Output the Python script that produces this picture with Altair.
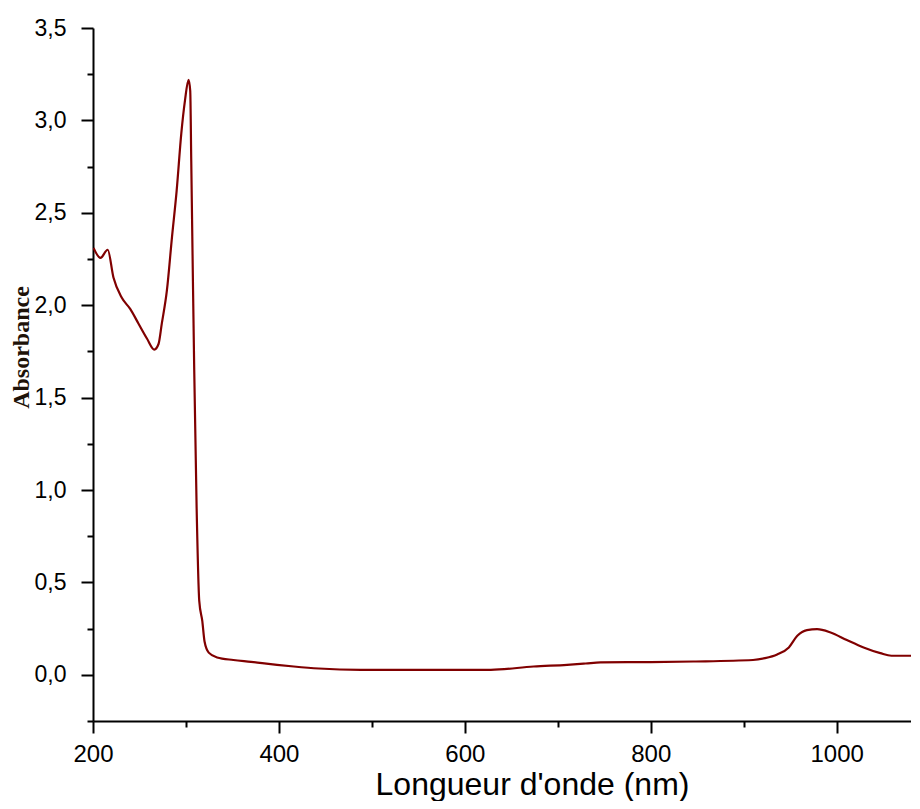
import altair as alt
import pandas as pd

# Wavelength (nm) and absorbance
wavelength = [200.6, 208, 215.8, 222, 231, 240, 249, 258, 266, 270.5, 274, 279.5,
              285, 290, 295, 299, 302.8, 304.6, 305.7, 307.5, 308.9, 311.5, 314.3,
              317.6, 320, 324.5, 333.5, 351, 370, 382, 398, 416, 443, 488, 628,
              674, 710, 730, 746, 800, 846, 910, 923, 936, 948.6, 957.7, 968, 979,
              993.5, 1011, 1029, 1047, 1059, 1086, 1090]
absorbance = [2.31, 2.256, 2.30, 2.15, 2.04, 1.98, 1.90, 1.82, 1.76, 1.79, 1.90, 2.08,
              2.37, 2.62, 2.93, 3.11, 3.22, 3.16, 2.78, 2.13, 1.65, 0.90, 0.40,
              0.29, 0.18, 0.12, 0.094, 0.08, 0.070, 0.063, 0.054, 0.045, 0.034, 0.027, 0.027,
              0.045, 0.054, 0.061, 0.067, 0.069, 0.072, 0.080, 0.09, 0.11, 0.148, 0.211, 0.242, 0.247,
              0.229, 0.188, 0.148, 0.117, 0.103, 0.103, 0.11]

x_major = [200, 400, 600, 800, 1000]
x_minor = [300, 500, 700, 900]
y_major = [0.0, 0.5, 1.0, 1.5, 2.0, 2.5, 3.0, 3.5]
y_minor = [-0.25, 0.25, 0.75, 1.25, 1.75, 2.25, 2.75, 3.25]

df = pd.DataFrame({"wl": wavelength, "abs": absorbance})

x_scale = alt.Scale(domain=[200, 1080], nice=False, zero=False)
y_scale = alt.Scale(domain=[-0.25, 3.5], nice=False, zero=False)

common = dict(
    grid=False,
    domainColor="black",
    domainWidth=2,
    tickColor="black",
    tickWidth=2,
    labelFont="Liberation Sans",
    labelColor="black",
    labelFlush=False,
)

x_axis = alt.Axis(
    values=x_major,
    format="d",
    tickSize=12,
    labelPadding=9,
    labelFontSize=24,
    title="Longueur d'onde (nm)",
    titleFont="Liberation Sans",
    titleFontSize=32,
    titleFontWeight="normal",
    titleColor="black",
    titleX=439,
    titleY=73,
    titleAlign="center",
    titleBaseline="alphabetic",
    orient="bottom",
    **common,
)

y_axis = alt.Axis(
    values=y_major,
    labelExpr="replace(format(datum.value, '.1f'), '.', ',')",
    tickSize=12,
    labelPadding=15,
    labelFontSize=23,
    title="Absorbance",
    titleFont="Liberation Serif",
    titleFontSize=24,
    titleFontWeight="bold",
    titleColor="#1e1208",
    titleX=-72,
    titleY=319,
    titleAngle=270,
    titleAlign="center",
    titleBaseline="middle",
    orient="left",
    **common,
)

x_axis_minor = alt.Axis(values=x_minor, tickSize=6, labels=False, domain=False, title="",
                        orient="bottom", grid=False, tickColor="black", tickWidth=2)
y_axis_minor = alt.Axis(values=y_minor, tickSize=6, labels=False, domain=False, title="",
                        orient="left", grid=False, tickColor="black", tickWidth=2)

line = alt.Chart(df).mark_line(color="#800000", strokeWidth=2.2, clip=True,
                               interpolate="monotone").encode(
    x=alt.X("wl:Q", scale=x_scale, axis=x_axis),
    y=alt.Y("abs:Q", scale=y_scale, axis=y_axis),
)

minor = alt.Chart(df).mark_line(opacity=0, clip=True).encode(
    x=alt.X("wl:Q", scale=x_scale, axis=x_axis_minor),
    y=alt.Y("abs:Q", scale=y_scale, axis=y_axis_minor),
)

chart = (
    alt.layer(line, minor)
    .resolve_axis(x="independent", y="independent")
    .properties(
        width=818,
        height=693,
        autosize=alt.AutoSizeParams(type="none"),
        padding={"left": 85, "top": 20, "right": 0, "bottom": 80},
    )
    .configure(background="white")
    .configure_view(stroke=None)
)

chart.save("out.html", embed_options={"renderer": "svg", "actions": False})
